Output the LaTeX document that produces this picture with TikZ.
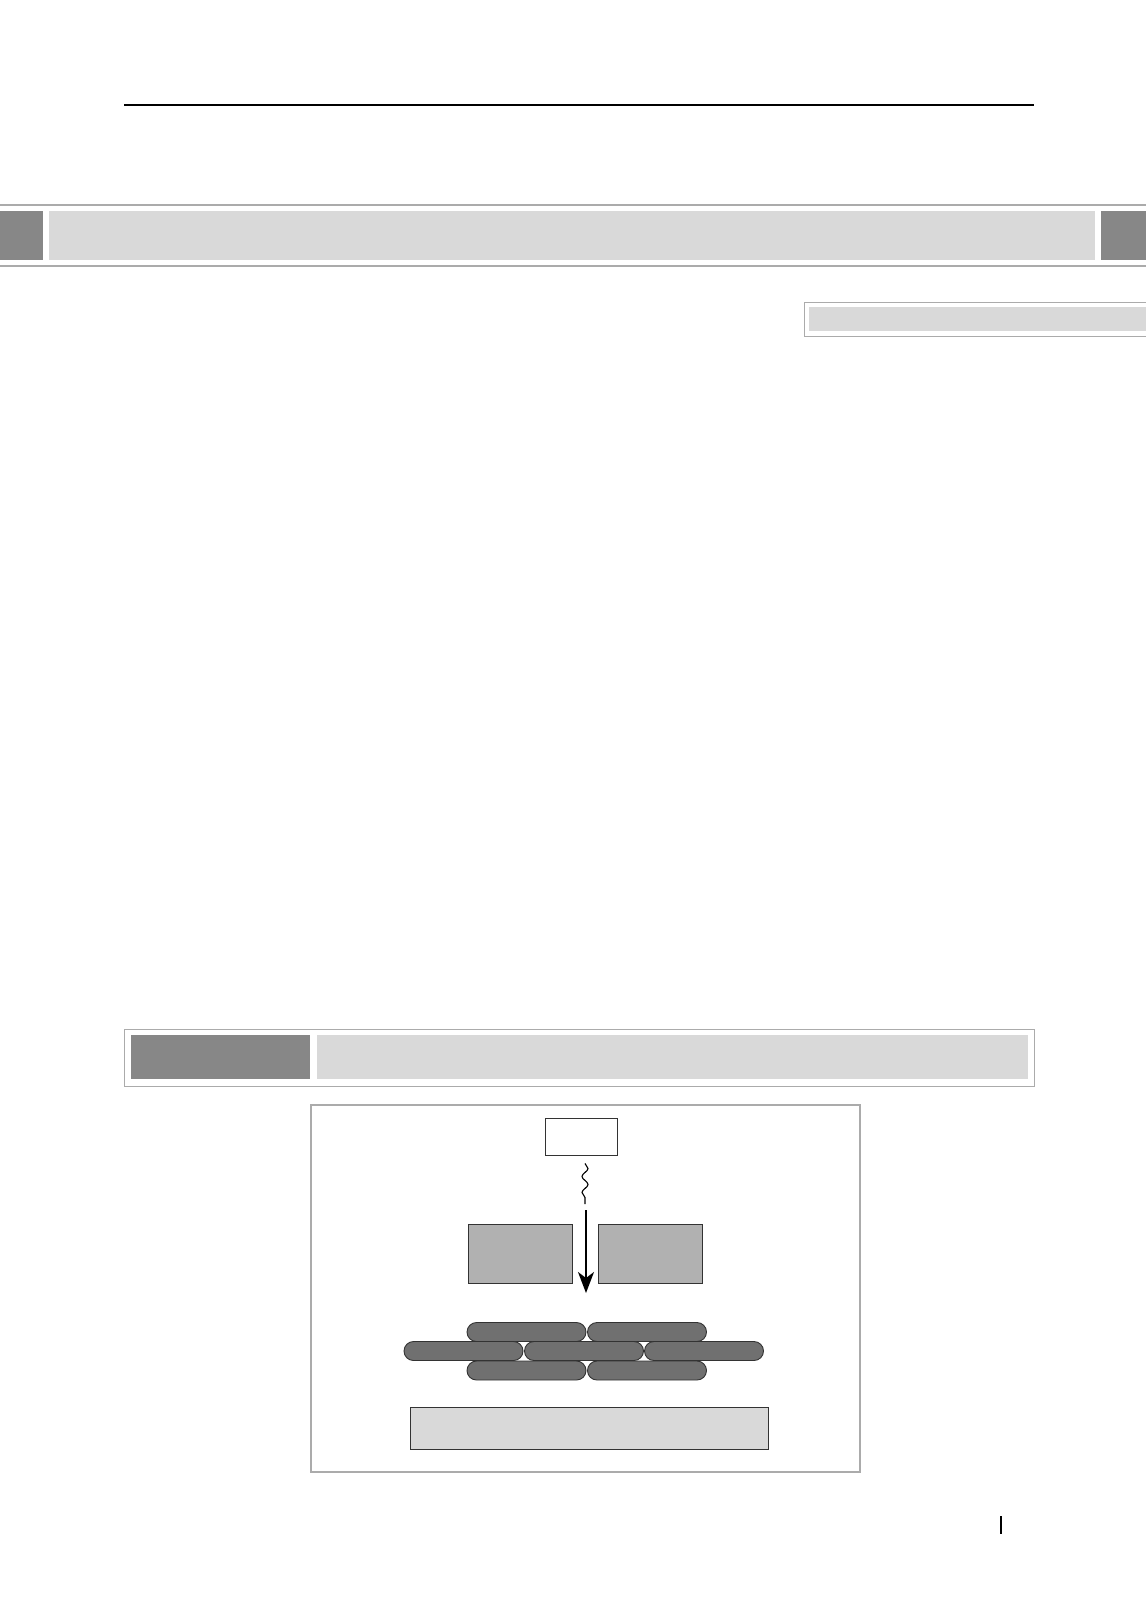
\documentclass[tikz,border=0pt]{standalone}
\usetikzlibrary{arrows.meta,decorations.pathmorphing}
\definecolor{darkband}{HTML}{878787}
\definecolor{lightband}{HTML}{D9D9D9}
\definecolor{blockgrey}{HTML}{B1B1B1}
\definecolor{pillgrey}{HTML}{707070}
\definecolor{rulegrey}{HTML}{ABABAB}
\definecolor{edgegrey}{HTML}{333333}
\begin{document}
\begin{tikzpicture}[x=1pt,y=-1pt,
    band/.style={inner sep=0pt,outer sep=0pt},
    part/.style={draw=edgegrey,line width=0.9pt,inner sep=0pt},
    pill/.style={part,fill=pillgrey,minimum width=119pt,minimum height=19pt,rounded corners=9.5pt},
    wavy/.style={line width=1.1pt,decorate,decoration={snake,segment length=16pt,amplitude=3pt}}]
        \useasboundingbox[fill=white] (0,0) rectangle (1146,1610);

        \draw[line width=1.5pt] (124,105) -- (1034,105);
        \draw[rulegrey,line width=1.6pt] (0,205) -- (1146,205);
        \draw[rulegrey,line width=1.6pt] (0,266) -- (1146,266);
        \node[band,fill=darkband,minimum width=43pt,minimum height=49pt] (tabl) at (21.5,235.5){};
        \node[band,fill=lightband,minimum width=1046pt,minimum height=49pt] (title) at (572,235.5){};
        \node[band,fill=darkband,minimum width=45pt,minimum height=49pt] (tabr) at (1123.5,235.5){};

        \draw[rulegrey,line width=1pt] (1146,302) -- (804,302) -- (804,336) -- (1146,336);
        \node[band,fill=lightband,minimum width=337pt,minimum height=24pt] (note) at (977.5,319){};

        \node[band,draw=rulegrey,line width=1pt,minimum width=910pt,minimum height=57pt] (caption) at (579,1057.5){};
        \node[band,fill=darkband,minimum width=179pt,minimum height=44pt] (fignum) at (220.5,1057){};
        \node[band,fill=lightband,minimum width=711pt,minimum height=44pt] (figtitle) at (672.5,1057){};

        \node[band,draw=rulegrey,line width=1.2pt,minimum width=549pt,minimum height=367pt] (frame) at (585.5,1288.5){};

        \node[part,fill=white,minimum width=72pt,minimum height=37pt] (src) at (581,1136.5){};
        \node[part,fill=blockgrey,minimum width=104pt,minimum height=59pt] (gapl) at (520.5,1253.5){};
        \node[part,fill=blockgrey,minimum width=104pt,minimum height=59pt] (gapr) at (650,1253.5){};

        \node[pill] (t1) at (526.5,1332){};
        \node[pill] (t2) at (647,1332){};
        \node[pill] (b1) at (526.5,1370.5){};
        \node[pill] (b2) at (647,1370.5){};
        \node[pill] (m1) at (463.5,1351){};
        \node[pill] (m2) at (584,1351){};
        \node[pill] (m3) at (704,1351){};

        \node[part,fill=lightband,minimum width=358pt,minimum height=42pt] (base) at (589,1428){};

        \coordinate (wavebot) at (585,1204);
        \coordinate (arrowtop) at (586,1210);
        \coordinate (arrowtip) at (586,1293);
        \draw[wavy] ([xshift=4pt,yshift=-8pt]src.south) -- (wavebot);
        \draw[line width=2pt,-{Stealth[length=21pt,width=16pt,inset=6pt]}] (arrowtop) -- (arrowtip);

        \draw[line width=2pt] (1001,1516) -- (1001,1534);
    \end{tikzpicture}
\end{document}
